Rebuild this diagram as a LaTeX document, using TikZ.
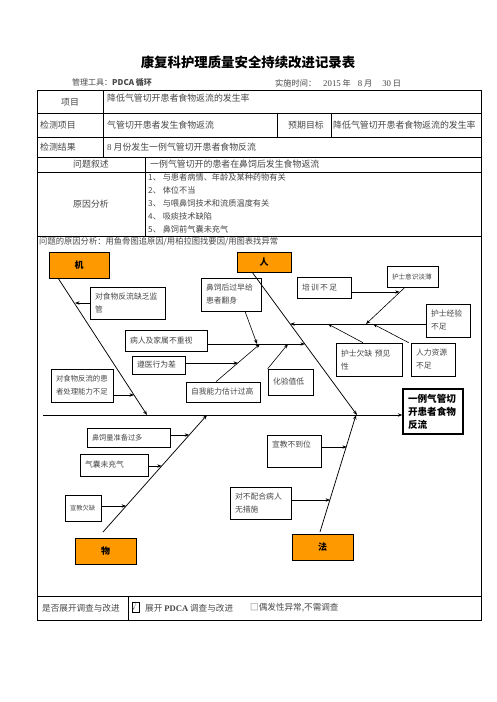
\documentclass[tikz,border=0pt]{standalone}
\usepackage{fontspec}
\setmainfont{Noto Sans CJK SC}
\newfontfamily\serifl{Liberation Serif}
\usetikzlibrary{arrows.meta}
\definecolor{fishorange}{RGB}{255,153,0}
\definecolor{txt}{gray}{0.28}
\tikzset{
  tx/.style={anchor=west, inner sep=0pt, text=txt, font=\fontsize{8.9}{10}\selectfont},
  lst/.style={anchor=west, inner sep=0pt, text=txt, font=\fontsize{8.2}{10}\selectfont},
  fb/.style={draw, line width=0.6pt, inner xsep=5pt, inner ysep=2pt, align=left, text=txt, font=\fontsize{7.8}{13}\selectfont},
  ob/.style={draw, line width=1pt, fill=fishorange, inner sep=0pt, font=\bfseries\fontsize{9}{10}\selectfont},
  bone/.style={line width=0.75pt, -{Stealth[length=4.5pt,width=3.4pt]}},
  arr/.style={line width=0.6pt, -{Stealth[length=4.5pt,width=3.4pt]}},
  outer/.style={line width=0.9pt},
  inner/.style={line width=0.6pt},
}
\begin{document}
\begin{tikzpicture}[x=1pt,y=-1pt]
\useasboundingbox[fill=white] (0,0) rectangle (496,702);

% ---------- title and header ----------
\node[font=\bfseries\fontsize{13.4}{15}\selectfont] (title) at (248,62) {康复科护理质量安全持续改进记录表};
\node[tx, font=\fontsize{8}{10}\selectfont] (tool) at (72,83) {管理工具：{\bfseries PDCA 循环}};
\node[tx, font=\fontsize{8.2}{10}\selectfont] (date) at (275,83) {实施时间：\hspace{7pt}{\serifl\fontsize{8.8}{10}\selectfont 2015} 年\hspace{7pt}{\serifl\fontsize{8.8}{10}\selectfont 8} 月\hspace{10pt}{\serifl\fontsize{8.8}{10}\selectfont 30} 日};

% ---------- table lines ----------
\draw[outer] (37,90) rectangle (481,620);
\foreach \yy in {113,137,157,172,236,596} \draw[inner] (37,\yy) -- (481,\yy);
\draw[inner] (103,90) -- (103,157);
\draw[inner] (277,113) -- (277,137);
\draw[inner] (331,113) -- (331,137);
\draw[inner] (145,157) -- (145,236);
\draw[inner] (128,596) -- (128,620);

% ---------- table texts ----------
\node[tx, anchor=center] (c11) at (70,102) {项目};
\node[tx] (c12) at (107,98) {降低气管切开患者食物返流的发生率};
\node[tx] (c21) at (40,125) {检测项目};
\node[tx] (c22) at (107,125) {气管切开患者发生食物返流};
\node[tx] (c23) at (288,125) {预期目标};
\node[tx] (c24) at (333,125) {降低气管切开患者食物返流的发生率};
\node[tx] (c31) at (40,147) {检测结果};
\node[tx] (c32) at (107,147) {{\serifl 8} 月份发生一例气管切开患者食物反流};
\node[tx, anchor=center] (c41) at (91,164) {问题叙述};
\node[tx] (c42) at (150,164) {一例气管切开的患者在鼻饲后发生食物返流};
\node[tx, anchor=center] (c51) at (91,204) {原因分析};
\node[lst] (l1) at (148,177) {1、 与患者病情、年龄及某种药物有关};
\node[lst] (l2) at (148,190) {2、 体位不当};
\node[lst] (l3) at (148,203) {3、 与喂鼻饲技术和流质温度有关};
\node[lst] (l4) at (148,216) {4、 吸痰技术缺陷};
\node[lst] (l5) at (148,229) {5、 鼻饲前气囊未充气};
\node[lst, font=\fontsize{8.3}{10}\selectfont] (c61) at (39,242) {问题的原因分析：用鱼骨图追原因/用柏拉图找要因/用图表找异常};
\node[lst, font=\fontsize{8.6}{10}\selectfont] (c71) at (42,608) {是否展开调查与改进};
\node[draw, line width=0.5pt, minimum width=7pt, minimum height=10pt, inner sep=0pt, text=txt, font=\fontsize{7.5}{8}\selectfont] (chk) at (135.5,607) {√};
\node[lst, font=\fontsize{8.6}{10}\selectfont] (c72) at (145,608) {展开 {\serifl\bfseries PDCA} 调查与改进};
\node[lst, font=\fontsize{8.6}{10}\selectfont] (c73) at (250,608) {□偶发性异常,不需调查};

% ---------- fishbone: category boxes ----------
\node[ob, minimum width=60pt, minimum height=26pt] (ji) at (79,265) {机};
\node[ob, minimum width=54pt, minimum height=20pt] (ren) at (264,262) {人};
\node[ob, minimum width=61pt, minimum height=26pt] (wu) at (105.5,551) {物};
\node[ob, minimum width=61pt, minimum height=26pt] (fa) at (322.5,547) {法};

% ---------- head ----------
\node[draw, line width=1.3pt, text width=50pt, minimum height=45pt, inner xsep=5pt, align=left, font=\bfseries\fontsize{9.6}{13}\selectfont] (head) at (433,411.5) {一例气管切\\开患者食物\\反流};

% ---------- cause boxes ----------
\node[fb, text width=65pt, minimum height=32pt] (jiquan) at (127.5,303) {对食物反流缺乏监\\管};
\node[fb, text width=52pt, minimum height=33pt, font=\fontsize{7.4}{13}\selectfont] (chuli) at (82,385.5) {对食物反流的患\\者处理能力不足};
\node[fb, text width=72pt, minimum height=21pt] (bingren) at (166,340.5) {病人及家属不重视};
\node[fb, text width=43pt, minimum height=18pt] (zunyi) at (158.5,365) {遵医行为差};
\node[fb, text width=64pt, minimum height=20pt] (ziwo) at (223,392) {自我能力估计过高};
\node[fb, text width=50pt, minimum height=33pt] (bisi) at (231,294.5) {鼻饲后过早给\\患者翻身};
\node[fb, text width=35pt, minimum height=26pt] (huayan) at (290.5,382) {化验值低};
\node[fb, text width=44pt, minimum height=21pt] (peixun) at (324,287.5) {培\,训\,不\,足};
\node[fb, text width=41pt, minimum height=21pt, font=\fontsize{6.6}{13}\selectfont] (yishi) at (412.5,276.5) {护士意识淡薄};
\node[fb, text width=34pt, minimum height=33pt] (jingyan) at (448,320.5) {护士经验\\不足};
\node[fb, text width=56pt, minimum height=33pt] (qianque) at (369,359.5) {护士欠缺 预见\\性};
\node[fb, text width=34pt, minimum height=33pt] (renli) at (433,359.5) {人力资源\\不足};
\node[fb, text width=73pt, minimum height=19pt, font=\fontsize{7.2}{13}\selectfont] (liang) at (128.5,437.5) {鼻饲量准备过多};
\node[fb, text width=58pt, minimum height=22pt] (qinang) at (114,465) {气囊未充气};
\node[fb, text width=26pt, minimum height=26pt, font=\fontsize{6.3}{13}\selectfont] (xuanjiao) at (83,508) {宣教欠缺};
\node[fb, text width=44pt, minimum height=32pt] (budaowei) at (294,451) {宣教不到位\\\mbox{}};
\node[fb, text width=51pt, minimum height=32pt] (peihe) at (260.5,503) {对不配合病人\\无措施};

% ---------- coordinates on the bones ----------
\coordinate (spL) at (43,415);
\coordinate (jA) at (58,278);   \coordinate (jB) at (147,415);
\coordinate (rA) at (252,272);  \coordinate (rB) at (357,415);
\coordinate (wA) at (103,532);  \coordinate (wB) at (207,415);
\coordinate (fA) at (320,532);  \coordinate (fB) at (356,415);
\coordinate (j1) at (75,303);
\coordinate (j2) at (134,395);
\coordinate (r1) at (290.2,324);
\coordinate (r2) at (304.9,344);
\coordinate (y1) at (366,324);
\coordinate (p1) at (399.7,292);
\coordinate (q1) at (328,324);
\coordinate (n1) at (373,324);
\coordinate (b1) at (257,344);
\coordinate (b2) at (260,344);
\coordinate (z1) at (238,363);
\coordinate (h1) at (288,344);
\coordinate (w1) at (189.2,435);
\coordinate (w2) at (161.7,466);
\coordinate (w3) at (126.1,506);
\coordinate (f1) at (346.9,447);
\coordinate (f2) at (330.1,500);

% ---------- spine and main bones ----------
\draw[bone, line width=0.9pt] (spL) -- ([yshift=-3.5pt]head.west);
\draw[bone] (jA) -- (jB);
\draw[bone] (rA) -- (rB);
\draw[bone] (wA) -- (wB);
\draw[bone] (fA) -- (fB);

% ---------- branch arrows ----------
\draw[arr] (jiquan.west) -- (j1);
\draw[arr] ([yshift=-9.5pt]chuli.east) -- (j2);
\draw[arr] ([yshift=-3.5pt]jingyan.west) -- (r1);
\draw[arr] ([yshift=-3.5pt]bingren.east) -- (r2);
\draw[arr] ([xshift=-7.5pt]yishi.south) -- (y1);
\draw[arr] ([yshift=-4.5pt]peixun.east) -- (p1);
\draw[arr] ([xshift=-6pt]qianque.north) -- (q1);
\draw[arr] ([xshift=-2pt]renli.north west) -- (n1);
\draw[arr] ([xshift=14pt]bisi.south) -- (b1);
\draw[arr] ([xshift=-7pt]ziwo.north) -- (b2);
\draw[arr] ([yshift=2pt]zunyi.east) -- (z1);
\draw[arr] (huayan.north west) -- (h1);
\draw[arr] ([yshift=2.5pt]liang.east) -- (w1);
\draw[arr] ([yshift=-1pt]qinang.east) -- (w2);
\draw[arr] ([yshift=2pt]xuanjiao.east) -- (w3);
\draw[arr] ([yshift=4pt]budaowei.east) -- (f1);
\draw[arr] ([yshift=3pt]peihe.east) -- (f2);
\end{tikzpicture}
\end{document}
